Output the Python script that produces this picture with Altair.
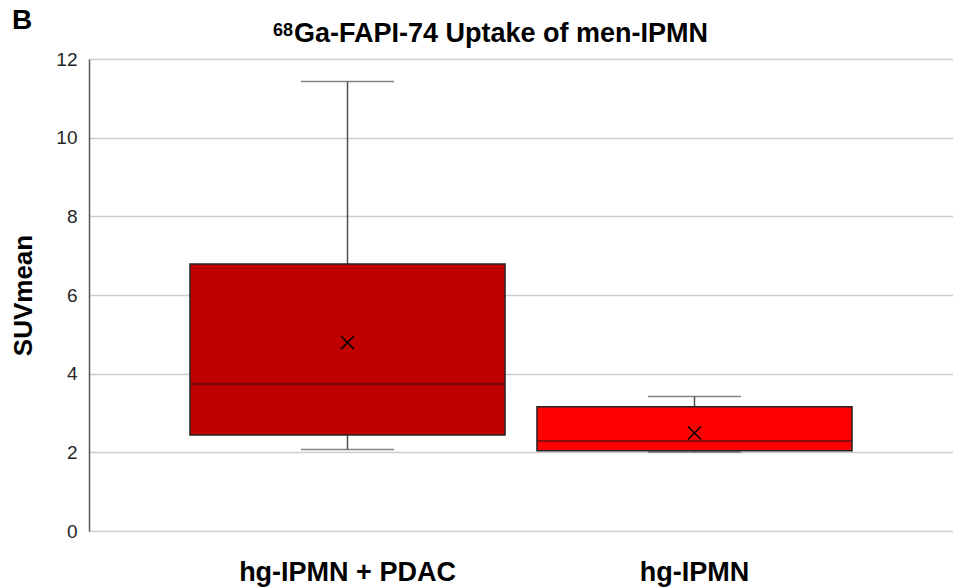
import altair as alt
import pandas as pd

categories = ["hg-IPMN + PDAC", "hg-IPMN"]
whisker_low = [2.07, 2.01]
q1 = [2.44, 2.04]
median = [3.74, 2.29]
q3 = [6.79, 3.16]
whisker_high = [11.43, 3.42]
mean = [4.79, 2.49]
box_colors = ["#C00000", "#FF0000"]
y_ticks = [0, 2, 4, 6, 8, 10, 12]
title_sup = "68"
title_main = "Ga-FAPI-74 Uptake of men-IPMN"
panel_letter = "B"

df = pd.DataFrame({
    "group": categories,
    "low": whisker_low,
    "q1": q1,
    "median": median,
    "q3": q3,
    "high": whisker_high,
    "mean": mean,
})

FONT = "Liberation Sans"

x_enc = alt.X(
    "group:N",
    sort=categories,
    scale=alt.Scale(paddingInner=0.092, paddingOuter=0.291),
    axis=alt.Axis(
        title=None, labelAngle=0, labelFont=FONT, labelFontSize=27,
        labelFontWeight="bold", labelColor="#000000", labelPadding=28,
        labelLimit=0, ticks=False, domain=False, grid=False,
    ),
)
y_scale = alt.Scale(domain=[0, 12], nice=False, zero=True)
y_axis = alt.Axis(
    title="SUVmean", titleFont=FONT, titleFontSize=26, titleFontWeight="bold",
    titleColor="#000000", titlePadding=19,
    values=y_ticks, labelFont=FONT, labelFontSize=19, labelColor="#262626",
    labelPadding=12, ticks=False, domain=True, domainColor="#595959",
    domainWidth=1.5, grid=True, gridColor="#CCCCCC", gridWidth=1.4,
)

base = alt.Chart(df)

whisker = base.mark_rule(color="#505050", strokeWidth=1.5).encode(
    x=x_enc,
    y=alt.Y("low:Q", scale=y_scale, axis=y_axis),
    y2="high:Q",
)
caps_low = base.mark_tick(color="#505050", thickness=1.5, size=93).encode(
    x=x_enc, y=alt.Y("low:Q", scale=y_scale)
)
caps_high = base.mark_tick(color="#505050", thickness=1.5, size=93).encode(
    x=x_enc, y=alt.Y("high:Q", scale=y_scale)
)
box = base.mark_bar(stroke="#262626", strokeWidth=1.5).encode(
    x=x_enc,
    y=alt.Y("q1:Q", scale=y_scale),
    y2="q3:Q",
    color=alt.Color("group:N", sort=categories,
                    scale=alt.Scale(domain=categories, range=box_colors),
                    legend=None),
)
med = base.mark_tick(color="#1a1a1a", thickness=1.5, size=315).encode(
    x=x_enc, y=alt.Y("median:Q", scale=y_scale)
)
mean_pt = base.mark_point(
    shape="M-1,-1L1,1M-1,1L1,-1", size=170, filled=False,
    stroke="#000000", strokeWidth=1.5, opacity=1,
).encode(x=x_enc, y=alt.Y("mean:Q", scale=y_scale))

panel = alt.Chart(pd.DataFrame({"t": [panel_letter]})).mark_text(
    font=FONT, fontSize=28, fontWeight="bold", align="left",
    baseline="alphabetic", color="#000000",
).encode(text="t:N", x=alt.value(-77), y=alt.value(-30))

sup = alt.Chart(pd.DataFrame({"t": [title_sup]})).mark_text(
    font=FONT, fontSize=18, fontWeight="bold", align="left",
    baseline="alphabetic", color="#000000",
).encode(text="t:N", x=alt.value(184), y=alt.value(-23))

main_title = alt.Chart(pd.DataFrame({"t": [title_main]})).mark_text(
    font=FONT, fontSize=27, fontWeight="bold", align="left",
    baseline="alphabetic", color="#000000",
).encode(text="t:N", x=alt.value(205), y=alt.value(-17))

chart = alt.layer(
    whisker, caps_low, caps_high, box, med, mean_pt, panel, sup, main_title
).properties(
    width=864,
    height=472,
    autosize=alt.AutoSizeParams(type="none"),
    padding={"left": 81, "top": 51, "right": 0, "bottom": 57},
).configure_view(stroke=None).configure(background="#FFFFFF")

chart.save("out.html", embed_options={"renderer": "svg", "actions": False})
